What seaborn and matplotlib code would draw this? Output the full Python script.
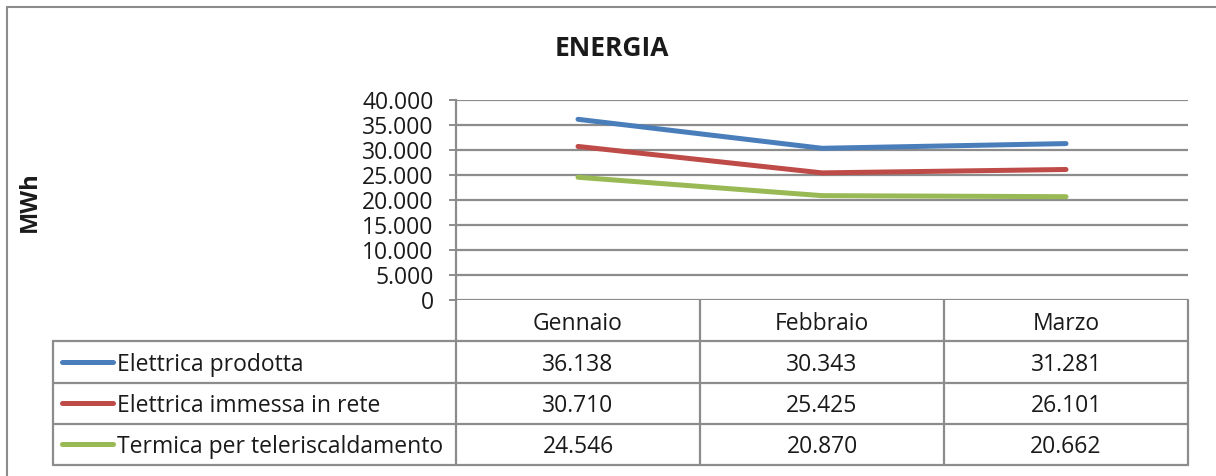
import matplotlib
matplotlib.use("Agg")
import matplotlib.pyplot as plt
import pandas as pd
import seaborn as sns

MONTHS = ["Gennaio", "Febbraio", "Marzo"]
SERIES_NAMES = ["Elettrica prodotta", "Elettrica immessa in rete", "Termica per teleriscaldamento"]
ELETTRICA_PRODOTTA = [36138, 30343, 31281]
ELETTRICA_IMMESSA = [30710, 25425, 26101]
TERMICA = [24546, 20870, 20662]
Y_TICKS = [0, 5000, 10000, 15000, 20000, 25000, 30000, 35000, 40000]

COLORS = ["#4A7EBB", "#BE4B48", "#98B954"]
GRID = "#8C8C8C"
TEXT = "#1A1A1A"
FS = 16.5

sns.set_theme(style="white")
plt.rcParams["font.family"] = ["Open Sans", "DejaVu Sans"]

W, H = 1216, 476


def it_fmt(v: int) -> str:
    return f"{v:,}".replace(",", ".")


df = pd.DataFrame(
    {
        "month": MONTHS * 3,
        "pos": list(range(3)) * 3,
        "series": [s for s in SERIES_NAMES for _ in MONTHS],
        "value": ELETTRICA_PRODOTTA + ELETTRICA_IMMESSA + TERMICA,
    }
)

fig = plt.figure(figsize=(W / 100, H / 100), dpi=100)

# outer chart border (only top/left visible in the crop)
fig.add_artist(plt.Line2D([7 / W, 1.0], [1 - 7 / H, 1 - 7 / H], color=GRID, lw=1.5, transform=fig.transFigure))
fig.add_artist(plt.Line2D([7 / W, 7 / W], [0, 1 - 7 / H], color=GRID, lw=1.5, transform=fig.transFigure))

x0, x1 = 456 / W, 1188 / W
y_top, y_bot = 1 - 100 / H, 1 - 300 / H
ax = fig.add_axes([x0, y_bot, x1 - x0, y_top - y_bot])

sns.lineplot(
    data=df, x="pos", y="value", hue="series", palette=COLORS,
    linewidth=3.6, ax=ax, legend=False, solid_capstyle="round",
)
ax.set_xlim(-0.5, 2.5)
ax.set_ylim(0, 40000)
ax.set_yticks(Y_TICKS)
ax.set_yticklabels([it_fmt(v) for v in Y_TICKS], fontsize=FS, color=TEXT)
ax.set_xticks([])
ax.set_xlabel("")
ax.set_ylabel("")
for v in Y_TICKS:
    ax.axhline(v, color=GRID, lw=1.6, zorder=0)
for s in ["top", "right", "bottom"]:
    ax.spines[s].set_visible(False)
ax.spines["left"].set_color(GRID)
ax.spines["left"].set_linewidth(1.6)
ax.tick_params(axis="y", length=5, width=1.4, color=GRID, pad=11, left=True)

fig.text(612 / W, 1 - 49 / H, "ENERGIA", ha="center", va="center", fontsize=19, fontweight="bold", color=TEXT)
fig.text(30 / W, 1 - 202 / H, "MWh", ha="center", va="center", rotation=90, fontsize=17, fontweight="bold", color=TEXT)

# data table under the plot, sharing the category positions
tl = 53 / W
t_bot = 1 - 465 / H
tab = fig.add_axes([tl, t_bot, x1 - tl, y_bot - t_bot])
left_lim = -0.5 - (456 - 53) / 244
tab.set_xlim(left_lim, 2.5)
tab.set_ylim(4, 0)
tab.axis("off")

for b in [-0.5, 0.5, 1.5, 2.5]:
    tab.plot([b, b], [0, 4], color=GRID, lw=1.6, clip_on=False)
tab.plot([left_lim, left_lim], [1, 4], color=GRID, lw=1.6, clip_on=False)
for r in [1, 2, 3, 4]:
    tab.plot([left_lim, 2.5], [r, r], color=GRID, lw=1.6, clip_on=False)

for i, m in enumerate(MONTHS):
    tab.text(i, 0.52, m, ha="center", va="center_baseline", fontsize=FS, color=TEXT)

rows = [ELETTRICA_PRODOTTA, ELETTRICA_IMMESSA, TERMICA]
for r, (name, vals, c) in enumerate(zip(SERIES_NAMES, rows, COLORS)):
    yc = r + 1.5
    tab.plot([left_lim + 0.035, left_lim + 0.245], [yc, yc], color=c, lw=3.6, solid_capstyle="round", clip_on=False)
    tab.text(left_lim + 0.262, yc, name, ha="left", va="center_baseline", fontsize=FS, color=TEXT)
    for i, v in enumerate(vals):
        tab.text(i, yc, it_fmt(v), ha="center", va="center_baseline", fontsize=FS, color=TEXT)

fig.savefig("out.png", dpi=100)
